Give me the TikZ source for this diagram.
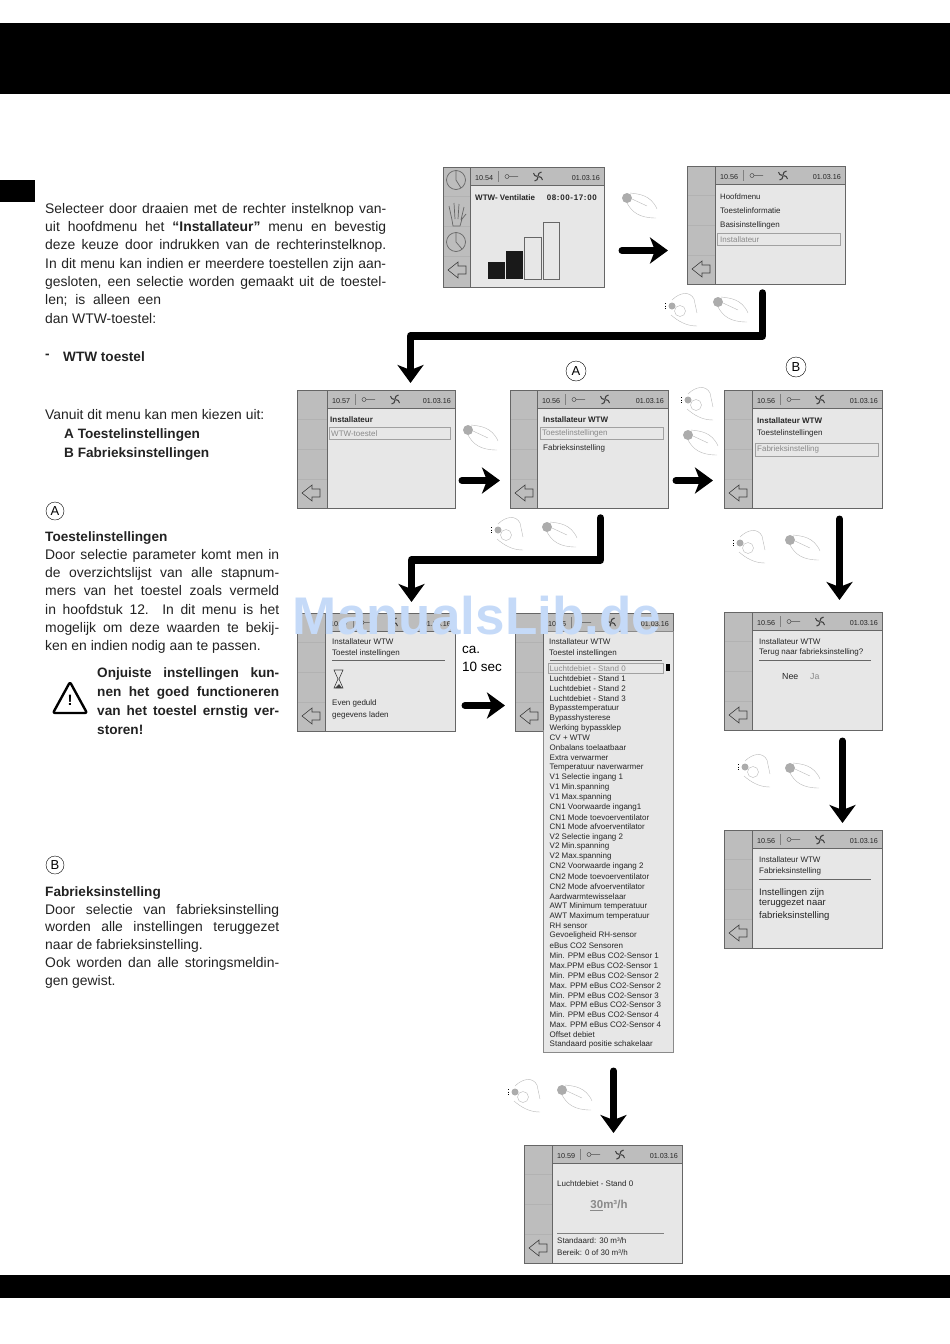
\documentclass[tikz,border=0pt]{standalone}
\usepackage{fontspec}
\setmainfont{Liberation Sans}
\usetikzlibrary{calc,arrows.meta}
\definecolor{lcdface}{HTML}{E7E7E7}
\definecolor{lcdbar}{HTML}{BDBDBD}
\definecolor{lcdedge}{HTML}{666666}
\definecolor{lcdgrey}{HTML}{8A8A8A}
\definecolor{bodyink}{HTML}{222222}
\definecolor{markblue}{HTML}{C5DAF8}
\tikzset{
	lcdframe/.style={draw=lcdedge, line width=1pt, fill=lcdface, inner sep=0pt, anchor=north west},
	lcdtext/.style={font=\fontsize{8}{9}\selectfont, text=black!85, inner sep=0pt, anchor=west, yshift=-0.8pt},
	lcdbold/.style={lcdtext, font=\fontsize{8}{9}\selectfont\bfseries},
	lcdsoft/.style={lcdtext, text=lcdgrey},
	lcdbox/.style={draw=lcdgrey!80, line width=0.5pt},
	bodytext/.style={font=\fontsize{13.9}{18.3}\selectfont, text=bodyink, inner sep=0pt, anchor=north west, align=justify},
	bodybold/.style={font=\fontsize{13.6}{18.3}\selectfont\bfseries, text=bodyink, inner sep=0pt, anchor=west},
	flowarrow/.style={line width=7pt, line cap=round, line join=round, -{Stealth[length=18pt,width=26pt,inset=5pt]}},
	circlelabel/.style={draw, circle, inner sep=0pt, minimum size=#1, font=\fontsize{13}{14}\selectfont},
	pics/handpress/.style={code={
		\draw[gray!55, line width=0.4pt] (3,-5) .. controls (12,-4) and (24,-3) .. (30,11);
		\draw[gray!55, line width=0.4pt] (0,5) .. controls (5,14) and (12,20) .. (29,20);
		\draw[gray!55, line width=0.4pt] (5,1) -- (20,8);
		\fill[gray!65] (0,0) circle (5);
	}},
	pics/handturn/.style={code={
		\draw[gray!55, line width=0.4pt] (0,-6) .. controls (8,-14) and (18,-15) .. (22,-7) -- (25,7);
		\draw[gray!55, line width=0.4pt] (-1,9) .. controls (6,15) and (14,20) .. (25,20);
		\draw[gray!55, line width=0.4pt] (8,5) circle (5.5);
		\fill[gray!65] (0,0) circle (3.5);
		\draw[black, line width=0.6pt, dotted] (-7,-3) -- (-7,3);
	}},
}
\def\lcdw{158}
\def\lcdh{118}
% one display: name, top left corner, width of the left column, clock
\def\lcdscreen(#1)(#2,#3)(#4)(#5){
	\node[lcdframe, minimum width=\lcdw pt, minimum height=\lcdh pt] (#1) at (#2,#3) {};
	\begin{scope}[shift={(#2,#3)}]
		\fill[lcdbar] (0,0) rectangle (#4,\lcdh);
		\fill[lcdbar] (#4,0) rectangle (\lcdw,18);
		\draw[lcdedge, line width=1pt] (#4,18) -- (\lcdw,18);
		\draw[lcdedge, line width=1pt] (#4,0) -- (#4,\lcdh);
		\foreach \sep in {29,59,89} \draw[gray!60, line width=0.4pt] (0,\sep) -- (#4,\sep);
		\draw[lcdedge, line width=1pt] (0,0) rectangle (\lcdw,\lcdh);
		\draw[black!75, line width=0.6pt] (15,95) -- (5,103) -- (15,111) -- (15,107) -- (23,107) -- (23,99) -- (15,99) -- cycle;
		\node[lcdtext, font=\fontsize{7.2}{8}\selectfont] (#1time) at (#4+5,10) {#5};
		\draw[gray, line width=0.4pt] (#4+28,4) -- (#4+28,15);
		\draw[black!70, line width=0.5pt] (#4+37,9.5) circle (2) (#4+39,9.5) -- (#4+48,9.5);
		\foreach \rot in {0,90,180,270} \draw[black!75, line width=1.1pt, rotate around={\rot:(#4+68,9.5)}] (#4+68,9) .. controls (#4+68,6.5) and (#4+69.5,5.5) .. (#4+71.5,5);
		\node[lcdtext, font=\fontsize{7.2}{8}\selectfont, anchor=east] (#1date) at (\lcdw-4,10) {01.03.16};
	\end{scope}
}
\begin{document}
\begin{tikzpicture}[x=1pt, y=-1pt]
	%%%%% START %%%%%
	\useasboundingbox (0,0) rectangle (950,1344);
	\fill[black] (0,23) rectangle (950,94);
	\fill[black] (0,180) rectangle (35,202);
	\fill[black] (0,1275) rectangle (950,1298);

	% left column
	\node[bodytext, text width=341pt] (introtext) at (45,203) {Selecteer door draaien met de rechter instelknop van-\linebreak uit hoofdmenu het \textbf{“Installateur”} menu en bevestig\linebreak deze keuze door indrukken van de rechterinstelknop.\linebreak In dit menu kan indien er meerdere toestellen zijn aan-\linebreak gesloten, een selectie worden gemaakt uit de toestel-\linebreak len;\ \ is\ \ alleen\ \ een\\dan WTW-toestel:};
	\node[bodybold] (dashmark) at (45,356) {-};
	\node[bodybold] (wtwtoestel) at (63,356.5) {WTW toestel};
	\node[bodytext] (choosetext) at (45,409.5) {Vanuit dit menu kan men kiezen uit:};
	\node[bodybold] (choicea) at (64,435) {A Toestelinstellingen};
	\node[bodybold] (choiceb) at (64,454) {B Fabrieksinstellingen};

	\node[circlelabel=18pt] (marka) at (55,511) {A};
	\node[bodybold] (toestelhead) at (45,538) {Toestelinstellingen};
	\node[bodytext, text width=234pt] (toesteltext) at (45,549) {Door selectie parameter komt men in\linebreak de overzichtslijst van alle stapnum-\linebreak mers van het toestel zoals vermeld\linebreak in hoofdstuk 12. In dit menu is het\linebreak mogelijk om deze waarden te bekij-\linebreak ken en indien nodig aan te passen.};

	\draw[black, line width=2.4pt, line join=round, rounded corners=2pt] (53,713) -- (70,682) -- (87,713) -- cycle;
	\node[font=\bfseries\fontsize{15}{16}\selectfont, inner sep=0pt] (warnmark) at (70,700) {!};
	\node[bodytext, text width=182pt, font=\fontsize{13.6}{19}\selectfont\bfseries] (warntext) at (97,667.5) {Onjuiste instellingen kun-\linebreak nen het goed functioneren\linebreak van het toestel ernstig ver-\linebreak storen!};

	\node[circlelabel=18pt] (markb) at (55,865) {B};
	\node[bodybold] (fabriekhead) at (45,893) {Fabrieksinstelling};
	\node[bodytext, text width=234pt, font=\fontsize{13.9}{17.7}\selectfont] (fabriektext) at (45,904) {Door selectie van fabrieksinstelling\linebreak worden alle instellingen teruggezet\linebreak naar de fabrieksinstelling.\\Ook worden dan alle storingsmeldin-\linebreak gen gewist.};

	% first row
	\def\lcdw{161}\def\lcdh{120}
	\lcdscreen(startscreen)(443,167)(27)(10.54)
	\def\lcdw{158}\def\lcdh{118}
	\draw[lcdedge, line width=0.7pt] (456,180) circle (9.5);
	\draw[lcdedge, line width=0.7pt] (456,180) -- (456,171) (456,180) -- (461,188);
	\draw[lcdedge, line width=0.7pt] (456,242) circle (9.5);
	\draw[lcdedge, line width=0.7pt] (456,242) -- (456,233) (456,242) -- (462,249);
	\draw[lcdedge, line width=0.7pt, line join=round] (452,220) -- (449,206) (455,219) -- (454,203) (458,219) -- (459,204) (461,220) -- (464,207) (452,220) -- (453,226) -- (460,226) -- (462,219) -- (466,214);
	\node[lcdbold] (startname) at (475,197) {WTW- Ventilatie};
	\node[lcdbold, anchor=east, font=\fontsize{8}{9}\selectfont\bfseries\addfontfeature{LetterSpace=8}] (starthours) at (597,197) {08:00-17:00};
	\fill[black!90] (488,262) rectangle (505,279);
	\fill[black!90] (506,251) rectangle (523,279);
	\draw[lcdedge, line width=0.7pt] (524.5,237) rectangle (541.5,279);
	\draw[lcdedge, line width=0.7pt] (543,222) rectangle (559,279);

	\lcdscreen(mainscreen)(687,166)(28)(10.56)
	\node[lcdbold, font=\fontsize{7.8}{9}\selectfont] (mainhead) at (720,196) {Hoofdmenu};
	\node[lcdtext] (maininfo) at (720,210) {Toestelinformatie};
	\node[lcdtext] (mainbasis) at (720,225) {Basisinstellingen};
	\draw[lcdbox] (717,233) rectangle (840,245);
	\node[lcdsoft] (mainsetup) at (720,239) {Installateur};

	\pic (pressa) at (627,198) {handpress};
	\pic (turna) at (672,306) {handturn};
	\pic (pressb) at (718,302) {handpress};

	% second row
	\lcdscreen(setupscreen)(297,390)(30)(10.57)
	\node[lcdbold] (setuphead) at (330,419) {Installateur};
	\draw[lcdbox] (329,427) rectangle (450,439);
	\node[lcdsoft] (setupitem) at (331,433) {WTW-toestel};

	\lcdscreen(wtwscreen)(510,390)(27)(10.56)
	\node[lcdbold] (wtwhead) at (543,419) {Installateur WTW};
	\draw[lcdbox] (540,427) rectangle (663,439);
	\node[lcdsoft] (wtwitem) at (542,433) {Toestelinstellingen};
	\node[lcdtext] (wtwfactory) at (543,448) {Fabrieksinstelling};

	\lcdscreen(factoryscreen)(724,390)(28)(10.56)
	\node[lcdbold] (factoryhead) at (757,420) {Installateur WTW};
	\node[lcdtext] (factoryitem) at (757,433) {Toestelinstellingen};
	\draw[lcdbox] (755,443) rectangle (878,456);
	\node[lcdsoft] (factorysel) at (757,449) {Fabrieksinstelling};

	\node[circlelabel=20pt] (labela) at (576,371) {A};
	\node[circlelabel=20pt] (labelb) at (796,367) {B};

	\pic (pressc) at (468,430) {handpress};
	\pic (turnb) at (688,400) {handturn};
	\pic (pressd) at (688,435) {handpress};
	\pic (turnc) at (498,530) {handturn};
	\pic (presse) at (547,527) {handpress};
	\pic (turnd) at (740,543) {handturn};
	\pic (pressf) at (790,540) {handpress};

	% third row
	\lcdscreen(waitscreen)(297,613)(28)(10.57)
	\node[lcdtext] (waithead) at (332,641) {Installateur WTW};
	\node[lcdtext] (waitsub) at (332,653) {Toestel instellingen};
	\draw[lcdedge, line width=0.5pt] (332,660) -- (445,660);
	\draw[black!75, line width=0.6pt] (334,670) -- (343,670) -- (339,679) -- (343,688) -- (334,688) -- (338,679) -- cycle;
	\fill[black!75] (335,688) -- (339,684) -- (342,688) -- cycle;
	\node[lcdtext] (waitone) at (332,703) {Even geduld};
	\node[lcdtext] (waittwo) at (332,715) {gegevens laden};
	\node[font=\fontsize{13.5}{15}\selectfont, inner sep=0pt, anchor=west] (casec) at (462,650) {ca.};
	\node[font=\fontsize{13.5}{15}\selectfont, inner sep=0pt, anchor=west] (tensec) at (462,667) {10 sec};

	\lcdscreen(listscreen)(515,613)(28)(10.56)
	\fill[lcdface, draw=lcdgrey, line width=0.6pt] (543,631) rectangle (673,1052);
	\draw[lcdedge, line width=1pt] (543,630) -- (543,730);
	\node[lcdtext] (listhead) at (549,641) {Installateur WTW};
	\node[lcdtext] (listsub) at (549,653) {Toestel instellingen};
	\draw[lcdedge, line width=0.5pt] (550,660) -- (662,660);
	\draw[lcdbox] (548,663) rectangle (663,673);
	\fill[black] (666,664) rectangle (670,671);
	\foreach \entry [count=\i from 0] in {Luchtdebiet - Stand 1, Luchtdebiet - Stand 2, Luchtdebiet - Stand 3, Bypasstemperatuur, Bypasshysterese, Werking bypassklep, CV + WTW, Onbalans toelaatbaar, Extra verwarmer, Temperatuur naverwarmer, V1 Selectie ingang 1, V1 Min.spanning, V1 Max.spanning, CN1 Voorwaarde ingang1, CN1 Mode toevoerventilator, CN1 Mode afvoerventilator, V2 Selectie ingang 2, V2 Min.spanning, V2 Max.spanning, CN2 Voorwaarde ingang 2, CN2 Mode toevoerventilator, CN2 Mode afvoerventilator, Aardwarmtewisselaar, AWT Minimum temperatuur, AWT Maximum temperatuur, RH sensor, Gevoeligheid RH-sensor, eBus CO2 Sensoren, Min. PPM eBus CO2-Sensor 1, Max.PPM eBus CO2-Sensor 1, Min. PPM eBus CO2-Sensor 2, Max. PPM eBus CO2-Sensor 2, Min. PPM eBus CO2-Sensor 3, Max. PPM eBus CO2-Sensor 3, Min. PPM eBus CO2-Sensor 4, Max. PPM eBus CO2-Sensor 4, Offset debiet, Standaard positie schakelaar} {
		\node[lcdtext] (listentry\i) at (549.5,677.89+9.89*\i) {\entry};
	}
	\node[lcdsoft] (listfirst) at (549.5,668) {Luchtdebiet - Stand 0};

	\lcdscreen(askscreen)(724,612)(28)(10.56)
	\node[lcdtext] (askhead) at (759,641) {Installateur WTW};
	\node[lcdtext] (asksub) at (759,652) {Terug naar fabrieksinstelling?};
	\draw[lcdedge, line width=0.5pt] (759,660) -- (871,660);
	\node[lcdtext, font=\fontsize{8.8}{9}\selectfont] (asknee) at (782,676) {Nee};
	\node[lcdsoft, font=\fontsize{8.8}{9}\selectfont] (askja) at (810,676) {Ja};

	\lcdscreen(donescreen)(724,830)(28)(10.56)
	\node[lcdtext] (donehead) at (759,859) {Installateur WTW};
	\node[lcdtext] (donesub) at (759,871) {Fabrieksinstelling};
	\draw[lcdedge, line width=0.5pt] (759,879) -- (871,879);
	\node[lcdtext, font=\fontsize{9.5}{10}\selectfont] (doneone) at (759,892) {Instellingen zijn};
	\node[lcdtext, font=\fontsize{9.5}{10}\selectfont] (donetwo) at (759,903) {teruggezet naar};
	\node[lcdtext, font=\fontsize{9.5}{10}\selectfont] (donethree) at (759,915) {fabrieksinstelling};

	\pic (turne) at (745,767) {handturn};
	\pic (pressg) at (790,768) {handpress};

	% last display
	\lcdscreen(flowscreen)(524,1145)(28)(10.59)
	\node[lcdtext] (flowhead) at (557,1183) {Luchtdebiet - Stand 0};
	\node[lcdsoft, anchor=center, font=\fontsize{11.5}{12}\selectfont\bfseries] (flowvalue) at (609,1205) {\underline{30}m³/h};
	\draw[gray, line width=0.5pt] (557,1233) -- (664,1233);
	\node[lcdtext] (flowstd) at (557,1240) {Standaard: 30 m³/h};
	\node[lcdtext] (flowrange) at (557,1252) {Bereik: 0 of 30 m³/h};

	\pic (turnf) at (515,1092) {handturn};
	\pic (pressh) at (562,1090) {handpress};

	% arrows
	\draw[flowarrow] ([shift={(17pt,-23pt)}]startscreen.east) -- ([shift={(-19pt,-25pt)}]mainscreen.west);
	\draw[flowarrow, line width=7.5pt] ([shift={(-4pt,-8pt)}]mainscreen.south) -- ++(0,43) -| ([shift={(34pt,7pt)}]setupscreen.north);
	\draw[flowarrow] ([shift={(6pt,-31pt)}]setupscreen.east) -- ([shift={(-10pt,-31pt)}]wtwscreen.west);
	\draw[flowarrow] ([shift={(7pt,-31pt)}]wtwscreen.east) -- ([shift={(-11pt,-31pt)}]factoryscreen.west);
	\draw[flowarrow, line width=7.5pt] ([shift={(11pt,-9pt)}]wtwscreen.south) -- ++(0,42) -| ([shift={(35pt,11pt)}]waitscreen.north);
	\draw[flowarrow] ([shift={(36pt,-10pt)}]factoryscreen.south) -- ([xshift=36pt,yshift=12pt]askscreen.north);
	\draw[flowarrow] ([shift={(9pt,-33pt)}]waitscreen.east) -- ([shift={(-10pt,-33pt)}]listscreen.west);
	\draw[flowarrow] ([shift={(39pt,-10pt)}]askscreen.south) -- ([xshift=39pt,yshift=7pt]donescreen.north);
	\draw[flowarrow] ([xshift=10pt,yshift=74pt]flowscreen.north) -- ([xshift=10pt,yshift=12pt]flowscreen.north);

	\node[font=\fontsize{53}{54}\selectfont\bfseries, text=markblue, inner sep=0pt] (watermark) at (477,616) {ManualsLib.de};
	%%%%% END %%%%%
\end{tikzpicture}
\end{document}
